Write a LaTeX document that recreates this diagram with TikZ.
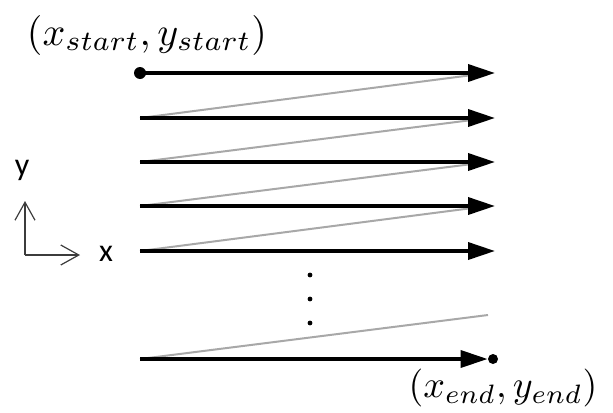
\documentclass[tikz,border=0pt]{standalone}
\usepackage{fontspec}
\usepackage{tikz}
\usetikzlibrary{arrows.meta,calc}
\newfontfamily\axisfont{Carlito}
\definecolor{retracegray}{RGB}{168,168,168}
\definecolor{axisgray}{RGB}{60,60,60}

\begin{document}
\begin{tikzpicture}[
  x=0.5pt, y=-0.5pt,
  scanline/.style = {-{Triangle[length=13.5pt,width=8.5pt]}, line width=1.8pt, black},
  retrace/.style = {line width=1pt, retracegray},
  axisarr/.style = {-{Straight Barb[length=9pt,width=10pt]}, line width=0.6pt, axisgray},
  enddot/.style = {circle, fill=black, inner sep=0pt, minimum size=5pt},
  coordlbl/.style = {scale=2.0, inner sep=0pt},
  axislbl/.style = {font=\axisfont\fontsize{16}{18}\selectfont, inner sep=0pt}
]
  \useasboundingbox (0,0) rectangle (613,412);

  % scan rows: left ends, arrow tips, ends of the return lines
  \foreach \i/\y in {1/73,2/118,3/162,4/206,5/251,6/359} {
    \coordinate (l\i) at (140,\y);
    \coordinate (r\i) at (495,\y);
    \coordinate (m\i) at (488,\y);
  }
  \coordinate (gap) at (488,315);

  \node[enddot, minimum size=6pt] (pstart) at (l1) {};
  \node[enddot] (pend) at (493,359) {};

  % return lines
  \foreach \i [evaluate=\i as \j using int(\i+1)] in {1,...,4}
    \draw[retrace] (l\j) -- (m\i);
  \draw[retrace] (l6) -- (gap);

  % scan lines
  \draw[scanline] (pstart.center) -- (r1);
  \foreach \i in {2,...,5}
    \draw[scanline] (l\i) -- (r\i);
  \draw[scanline] (l6) -- (pend);

  \foreach \y in {275,299,323}
    \fill (310,\y) circle (1.2pt);

  % axes
  \coordinate (orig) at (25,255);
  \coordinate (ytip) at (25,201);
  \coordinate (xtip) at (80,255);
  \draw[axisarr] (orig) -- (ytip);
  \draw[axisarr] (orig) -- (xtip);
  \node[axislbl] (ylbl) at (22,170) {y};
  \node[axislbl] (xlbl) at (106,254) {x};

  \node[coordlbl] (startlbl) at (147,35) {$(x_{start},y_{start})$};
  \node[coordlbl, scale=0.95] (endlbl) at (503,388) {$(x_{end},y_{end})$};
\end{tikzpicture}
\end{document}
